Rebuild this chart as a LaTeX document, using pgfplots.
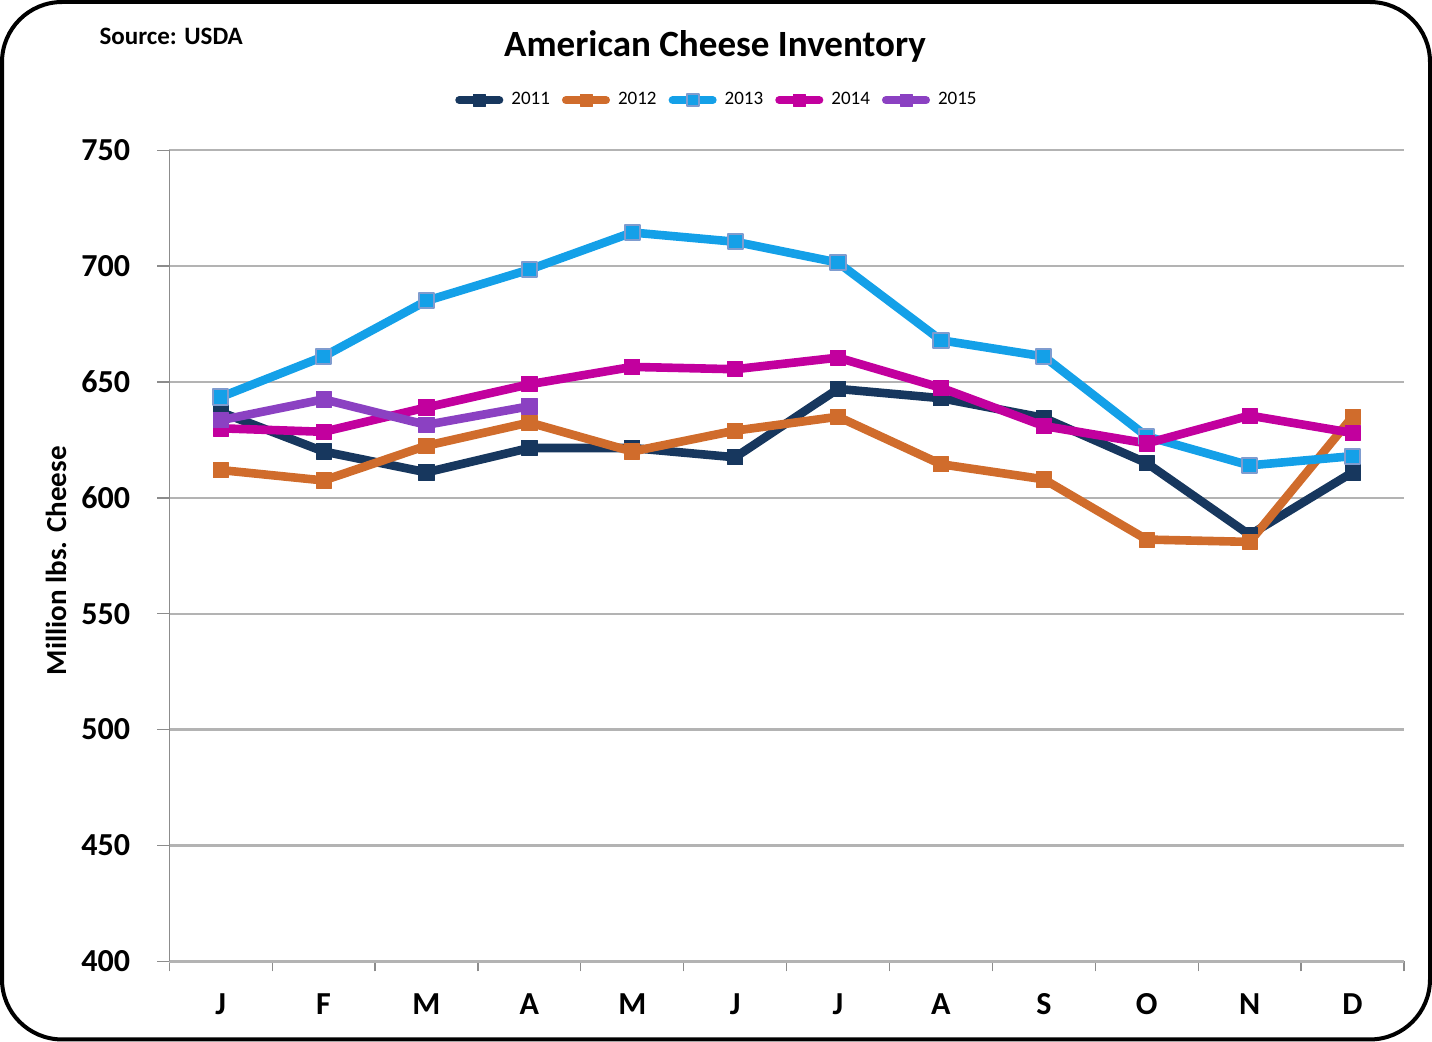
\documentclass[border=0pt]{standalone}
\usepackage{pgfplots}
\pgfplotsset{compat=1.18}
\usepackage{fontspec}
\setmainfont{Carlito}

\definecolor{c2011}{HTML}{17375E}
\definecolor{c2012}{HTML}{D06C2C}
\definecolor{c2013}{HTML}{14A0E8}
\definecolor{c2014}{HTML}{C2009E}
\definecolor{c2015}{HTML}{8B41C2}
\definecolor{edge2013}{HTML}{7F9CCF}
\definecolor{gridgray}{HTML}{B3B3B3}
\definecolor{axgray}{HTML}{8C8C8C}

\begin{document}
\begin{tikzpicture}
\begin{axis}[
    scale only axis,
    width=616.5pt, height=405pt,
    xmin=0.5, xmax=12.5,
    ymin=400, ymax=750,
    ytick={400,450,...,750},
    xtick={1,...,12},
    xticklabels={J,F,M,A,M,J,J,A,S,O,N,D},
    minor xtick={0.5,1.5,...,12.5},
    major x tick style={draw=none},
    minor x tick style={axgray, line width=0.6pt},
    axis x line*=bottom,
    axis y line*=left,
    x axis line style={gridgray, line width=1.2pt},
    y axis line style={axgray, line width=0.7pt},
    tick align=outside,
    major tick length=6pt,
    minor tick length=5pt,
    y tick style={axgray, line width=0.7pt},
    ymajorgrids=true,
    grid style={gridgray, line width=1.1pt},
    /pgf/number format/assume math mode=true,
    tick label style={font=\fontsize{16}{16}\selectfont\bfseries},
    yticklabel style={xshift=-10pt},
    xticklabel style={yshift=-6.5pt},
    ylabel={Million lbs. Cheese},
    ylabel style={at={(axis description cs:-0.0917,0.494)}, anchor=center,
        font=\fontsize{14.5}{14.5}\selectfont\bfseries},
    every axis plot/.append style={line width=4.3pt, line join=round, mark=square*, mark size=3.8pt},
    legend columns=5,
    legend style={at={(0.4444,1.0617)}, anchor=center, draw=none, fill=none,
        font=\fontsize{9.5}{9.5}\selectfont, column sep=2pt,
        /tikz/every even column/.append style={column sep=4pt}},
    legend cell align=left,
    legend image code/.code={
        \draw[#1, line cap=round, line width=4pt, mark repeat=2, mark phase=2, mark size=3pt]
        plot coordinates {(0pt,0pt) (10pt,0pt) (20pt,0pt)};
    },
    clip=false,
]
\addplot[c2011, mark options={fill=c2011, draw=c2011, line width=0.4pt}] coordinates {
    (1,637) (2,620) (3,611) (4,621.5) (5,621.5) (6,617.5)
    (7,647) (8,643) (9,634.5) (10,615) (11,584) (12,611)
};
\addlegendentry{2011}
\addplot[c2012, mark options={fill=c2012, draw=c2012, line width=0.4pt}] coordinates {
    (1,612) (2,607.5) (3,622.5) (4,632.5) (5,620) (6,629)
    (7,635) (8,614.5) (9,608) (10,582) (11,581) (12,635)
};
\addlegendentry{2012}
\addplot[c2013, mark options={fill=c2013, draw=edge2013, line width=1pt}] coordinates {
    (1,643.5) (2,661) (3,685) (4,698.5) (5,714.5) (6,710.5)
    (7,701.5) (8,668) (9,661) (10,626.5) (11,614) (12,618)
};
\addlegendentry{2013}
\addplot[c2014, mark options={fill=c2014, draw=c2014, line width=0.4pt}] coordinates {
    (1,630) (2,628.5) (3,639) (4,649) (5,656.5) (6,655.5)
    (7,660.5) (8,647.5) (9,631) (10,623.5) (11,635.5) (12,628)
};
\addlegendentry{2014}
\addplot[c2015, mark options={fill=c2015, draw=c2015, line width=0.4pt}] coordinates {
    (1,633.5) (2,642.5) (3,631.5) (4,639.5)
};
\addlegendentry{2015}
\end{axis}
\node[font=\fontsize{18.5}{18.5}\selectfont\bfseries] at (272.5pt,457pt) {American Cheese Inventory};
\node[font=\fontsize{12.5}{12.5}\selectfont\bfseries, anchor=west, inner sep=0pt] at (-35pt,462pt) {Source: USDA};
\draw[line width=2pt, rounded corners=30pt] (-83.5pt,-39pt) rectangle (629.5pt,479pt);
\end{tikzpicture}
\end{document}
